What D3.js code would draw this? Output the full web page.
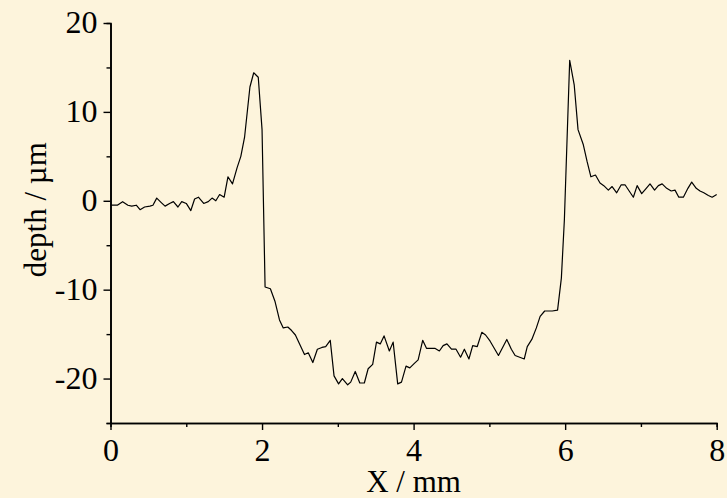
<!DOCTYPE html>
<html>
<head>
<meta charset="utf-8">
<script src="https://cdn.jsdelivr.net/npm/d3@7"></script>
<style>
  html, body { margin: 0; padding: 0; background: #fdf4dc; }
  svg { display: block; }
  text { font-family: "Liberation Serif", "Times New Roman", serif; fill: #000; }
</style>
</head>
<body>
<div id="chart"></div>
<script>
// profile across the groove
const xs = [
  0, 0.09, 0.16, 0.23, 0.28, 0.34, 0.39, 0.45, 0.52, 0.56,
  0.61, 0.67, 0.72, 0.78, 0.83, 0.89, 0.94, 1.00, 1.06, 1.11,
  1.16, 1.23, 1.29, 1.34, 1.39, 1.44, 1.50, 1.55, 1.61, 1.67,
  1.72, 1.77, 1.84, 1.89, 1.95, 2.00, 2.04, 2.11, 2.17, 2.23,
  2.28, 2.34, 2.39, 2.44, 2.50, 2.56, 2.61, 2.67, 2.73, 2.79,
  2.84, 2.90, 2.95, 3.01, 3.06, 3.13, 3.17, 3.23, 3.29, 3.35,
  3.40, 3.46, 3.51, 3.56, 3.61, 3.68, 3.73, 3.79, 3.84, 3.90,
  3.95, 4.01, 4.06, 4.12, 4.17, 4.24, 4.28, 4.34, 4.39, 4.44,
  4.50, 4.56, 4.62, 4.67, 4.73, 4.78, 4.84, 4.90, 4.95, 5.01,
  5.12, 5.23, 5.29, 5.34, 5.40, 5.46, 5.50, 5.56, 5.62, 5.67,
  5.73, 5.83, 5.90, 5.95, 5.99, 6.06, 6.12, 6.17, 6.24, 6.29,
  6.34, 6.40, 6.46, 6.51, 6.57, 6.62, 6.68, 6.74, 6.79, 6.90,
  6.95, 7.01, 7.07, 7.12, 7.18, 7.23, 7.28, 7.34, 7.40, 7.45,
  7.50, 7.56, 7.62, 7.67, 7.73, 7.78, 7.83, 7.89, 7.94, 8.00
];
const depth = [
  -0.5, -0.5, -0.1, -0.5, -0.6, -0.5, -1.0, -0.7, -0.6, -0.5,
  0.3, -0.2, -0.6, -0.3, -0.1, -0.7, -0.1, -0.3, -1.1, 0.2,
  0.4, -0.3, -0.1, 0.3, 0.0, 0.7, 0.4, 2.7, 1.9, 3.7,
  5.0, 7.2, 12.8, 14.4, 13.9, 8.0, -9.7, -9.9, -11.3, -13.4,
  -14.3, -14.2, -14.6, -15.1, -16.2, -17.3, -17.1, -18.2, -16.7, -16.5,
  -16.4, -15.7, -19.7, -20.6, -20.0, -20.7, -20.4, -19.2, -20.5, -20.5,
  -18.9, -18.4, -15.9, -16.1, -15.2, -16.9, -15.9, -20.6, -20.4, -18.6,
  -18.8, -18.3, -17.9, -15.7, -16.6, -16.6, -16.6, -16.9, -16.3, -16.1,
  -16.7, -16.7, -17.6, -16.7, -17.8, -16.3, -16.4, -14.8, -15.1, -15.8,
  -17.4, -15.6, -16.7, -17.4, -17.6, -17.8, -16.4, -15.6, -14.3, -13.0,
  -12.4, -12.4, -12.3, -8.7, -2.1, 15.8, 13.0, 8.0, 6.3, 4.4,
  2.7, 2.9, 2.0, 1.7, 1.2, 1.6, 0.9, 1.8, 1.8, 0.4,
  1.7, 0.8, 1.4, 1.9, 1.2, 1.7, 1.9, 1.4, 1.1, 1.2,
  0.4, 0.4, 1.4, 2.1, 1.4, 1.1, 0.9, 0.6, 0.4, 0.7
];
const xMajor = [0, 2, 4, 6, 8];
const xMinor = [1, 3, 5, 7];
const yMajor = [-20, -10, 0, 10, 20];
const yMinor = [-25, -15, -5, 5, 15];

const width = 727,
  height = 498,
  margin = { top: 23, right: 10, bottom: 75, left: 110.5 };

const svg = d3
  .select("#chart")
  .append("svg")
  .attr("width", width)
  .attr("height", height);

// parchment look, kept faint
const defs = svg.append("defs");
const filt = defs.append("filter").attr("id", "paper").attr("x", 0).attr("y", 0)
  .attr("width", "100%").attr("height", "100%");
filt.append("feTurbulence")
  .attr("type", "fractalNoise")
  .attr("baseFrequency", 0.015)
  .attr("numOctaves", 3)
  .attr("seed", 7);
filt.append("feColorMatrix")
  .attr("type", "matrix")
  .attr("values", "0 0 0 0 0.97  0 0 0 0 0.9  0 0 0 0 0.72  0 0 0 0.25 -0.1");

svg.append("rect").attr("width", width).attr("height", height).attr("fill", "#fdf4dc");
svg.append("rect").attr("width", width).attr("height", height).attr("filter", "url(#paper)");

let x = d3.scaleLinear().domain([0, 8]).range([margin.left, 716.7]);
let y = d3.scaleLinear().domain([-25, 20]).range([height - margin.bottom, margin.top]);

const plain = (d) => String(d); // hyphen minus like the original

// minor ticks first, labels come from the major axes
svg.append("g")
  .attr("transform", `translate(${margin.left},0)`)
  .call(d3.axisLeft(y).tickValues(yMinor).tickSize(4).tickFormat(""));
svg.append("g")
  .attr("transform", `translate(0,${y(-25)})`)
  .call(d3.axisBottom(x).tickValues(xMinor).tickSize(4).tickFormat(""));

let yAxis = svg.append("g")
  .attr("transform", `translate(${margin.left},0)`)
  .call(d3.axisLeft(y).tickValues(yMajor).tickSize(7).tickSizeOuter(0).tickPadding(6).tickFormat(plain));
let xAxis = svg.append("g")
  .attr("transform", `translate(0,${y(-25)})`)
  .call(d3.axisBottom(x).tickValues(xMajor).tickSize(7).tickSizeOuter(0).tickPadding(8).tickFormat(plain));

svg.selectAll(".domain").attr("stroke", "#000").attr("stroke-width", 1.6);
svg.selectAll(".tick line").attr("stroke", "#000").attr("stroke-width", 1.4);
svg.selectAll(".tick text")
  .style("font-family", '"Liberation Serif", "Times New Roman", serif')
  .style("font-size", "32px")
  .attr("fill", "#000");
yAxis.selectAll(".tick text").attr("dy", "0.3em");
xAxis.selectAll(".tick text").attr("dy", "0.71em");

let line = d3.line()
  .x((d, i) => x(xs[i]))
  .y((d) => y(d));

svg.append("path")
  .datum(depth)
  .attr("d", line)
  .attr("fill", "none")
  .attr("stroke", "#000")
  .attr("stroke-width", 1.2)
  .attr("stroke-linejoin", "round");

// axis titles
svg.append("text")
  .attr("x", x(4))
  .attr("y", 492)
  .attr("text-anchor", "middle")
  .style("font-size", "31px")
  .text("X / mm");

svg.append("text")
  .attr("transform", `translate(46,${y(-1)}) rotate(-90)`)
  .attr("text-anchor", "middle")
  .style("font-size", "31px")
  .text("depth / µm");
</script>
</body>
</html>
